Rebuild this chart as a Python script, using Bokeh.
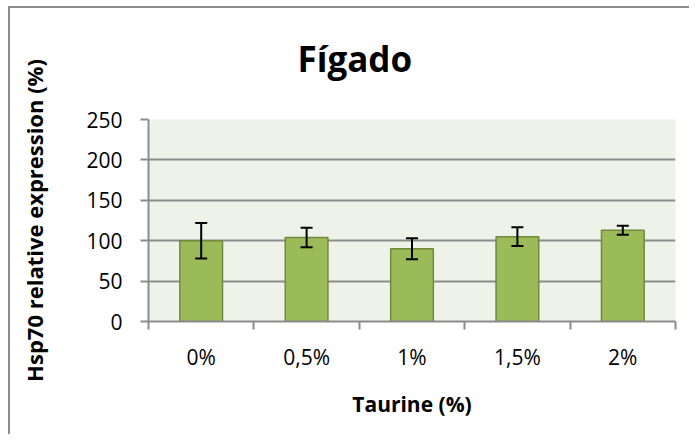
from bokeh.plotting import figure
from bokeh.models import (ColumnDataSource, Whisker, TeeHead, FixedTicker, Range1d, Title)
from bokeh.embed import file_html
from bokeh.resources import INLINE

categories = ["0%", "0,5%", "1%", "1,5%", "2%"]
expression = [100, 104, 90, 105, 113]
errors = [22, 12, 13, 11.5, 5.5]
y_ticks = [0, 50, 100, 150, 200, 250]

xs = [i + 0.5 for i in range(len(categories))]
src = ColumnDataSource(dict(
    x=xs,
    top=expression,
    upper=[v + e for v, e in zip(expression, errors)],
    lower=[v - e for v, e in zip(expression, errors)],
))

FONT = "Open Sans"
GREY = "#8c8c8c"

p = figure(width=689, height=434, output_backend="svg", toolbar_location=None,
           x_range=Range1d(0, len(categories)), y_range=Range1d(0, 250),
           min_border_left=148, min_border_right=14, min_border_top=119,
           min_border_bottom=113, title="Fígado")
p.styles = {
    "background-color": "white",
    "background-image": f"linear-gradient({GREY},{GREY}), linear-gradient({GREY},{GREY})",
    "background-position": "8px 6px, 8px 6px",
    "background-size": "2px 100%, 100% 2px",
    "background-repeat": "no-repeat",
}

p.background_fill_color = "#EFF2E9"
p.border_fill_alpha = 0
p.outline_line_color = None

p.title.align = "left"
p.title.offset = 149
p.title.text_font = FONT
p.title.text_font_style = "bold"
p.title.text_font_size = "35px"
p.title.text_color = "black"
p.title.standoff = 62

# thin spacer between title and plot area
p.add_layout(Title(text=" ", text_font_size="1px", standoff=4), "above")

p.vbar(x="x", top="top", width=0.405, source=src,
       fill_color="#9BBB59", line_color="#71893F", line_width=1.5)

w = Whisker(base="x", upper="upper", lower="lower", source=src, level="overlay",
            line_color="black", line_width=2,
            upper_head=TeeHead(size=12, line_color="black", line_width=2),
            lower_head=TeeHead(size=12, line_color="black", line_width=2))
p.add_layout(w)

# y axis
p.yaxis.ticker = FixedTicker(ticks=y_ticks)
p.yaxis.axis_line_color = GREY
p.yaxis.axis_line_width = 2
p.yaxis.major_tick_line_color = GREY
p.yaxis.major_tick_line_width = 2
p.yaxis.major_tick_out = 8
p.yaxis.major_tick_in = 0
p.yaxis.minor_tick_line_color = None
p.yaxis.major_label_text_font = FONT
p.yaxis.major_label_text_font_size = "21px"
p.yaxis.major_label_text_color = "black"
p.yaxis.major_label_standoff = 18
p.yaxis.axis_label = "Hsp70 relative expression (%)"
p.yaxis.axis_label_text_font = FONT
p.yaxis.axis_label_text_font_style = "bold"
p.yaxis.axis_label_text_font_size = "22px"
p.yaxis.axis_label_text_color = "black"
p.yaxis.axis_label_standoff = 34

# x axis: labels at centers, tick marks at boundaries (minor ticks)
p.xaxis.ticker = FixedTicker(ticks=xs, minor_ticks=list(range(len(categories) + 1)))
p.xaxis.major_label_overrides = {x: c for x, c in zip(xs, categories)}
p.xaxis.axis_line_color = GREY
p.xaxis.axis_line_width = 2
p.xaxis.major_tick_line_color = None
p.xaxis.major_tick_out = 0
p.xaxis.major_tick_in = 0
p.xaxis.minor_tick_line_color = GREY
p.xaxis.minor_tick_line_width = 2
p.xaxis.minor_tick_out = 8
p.xaxis.minor_tick_in = 0
p.xaxis.major_label_text_font = FONT
p.xaxis.major_label_text_font_size = "21px"
p.xaxis.major_label_text_color = "black"
p.xaxis.major_label_standoff = 13
p.xaxis.axis_label = "Taurine (%)"
p.xaxis.axis_label_text_font = FONT
p.xaxis.axis_label_text_font_style = "bold"
p.xaxis.axis_label_text_font_size = "21px"
p.xaxis.axis_label_text_color = "black"
p.xaxis.axis_label_standoff = 16

p.xgrid.grid_line_color = None
p.ygrid.ticker = FixedTicker(ticks=y_ticks)
p.ygrid.grid_line_color = GREY
p.ygrid.grid_line_width = 2

open("out.html", "w").write(file_html(p, INLINE))
